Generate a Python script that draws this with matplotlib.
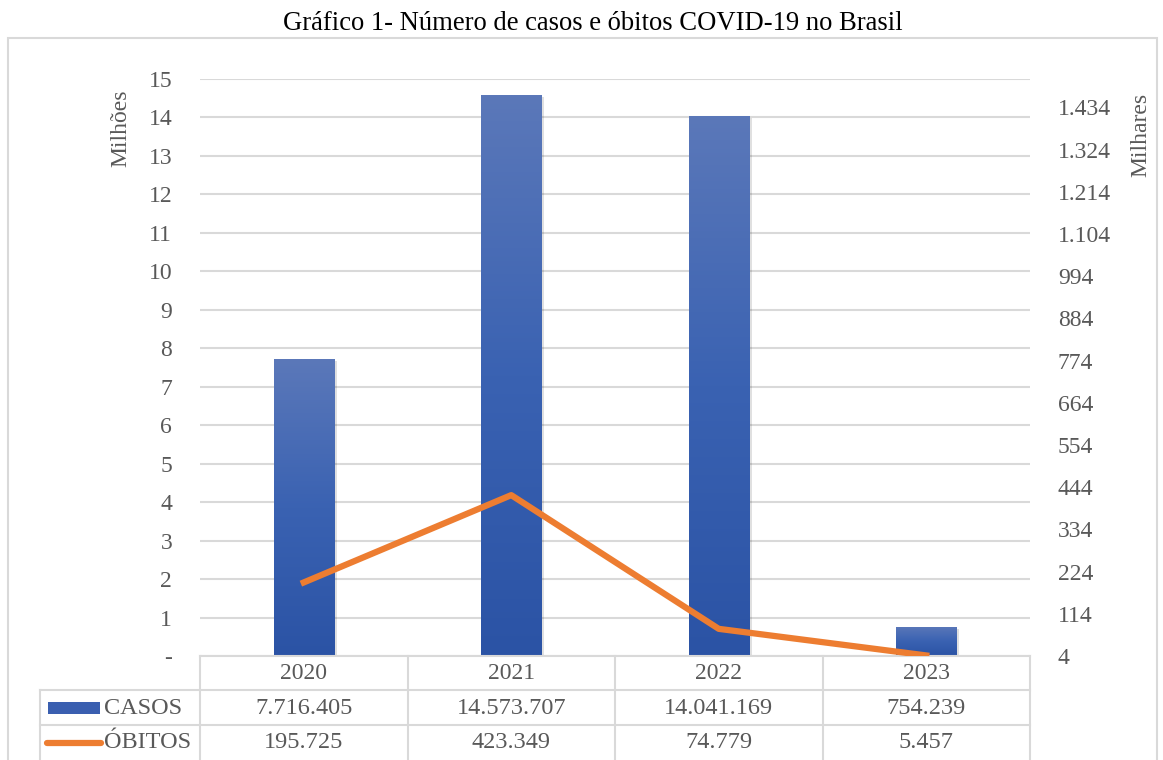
import matplotlib.pyplot as plt
import numpy as np
from matplotlib.colors import LinearSegmentedColormap
from matplotlib.lines import Line2D
from matplotlib.patches import Rectangle
import matplotlib.transforms as mtransforms

# dados do grafico
anos = ['2020', '2021', '2022', '2023']
casos = [7716405, 14573707, 14041169, 754239]
obitos = [195725, 423349, 74779, 5457]
ticks_esq = list(range(0, 16))          # milhoes
ticks_dir = list(range(4, 1435, 110))   # milhares

plt.rcParams['font.family'] = ['Liberation Serif', 'DejaVu Serif']

W, H = 1163, 760
CINZA = '#D9D9D9'
TEXTO = '#595959'


def fx(px):
    return px / W


def fy(py):
    return 1 - py / H


def ponto(v):
    # separador de milhar no formato brasileiro
    return '{:,}'.format(v).replace(',', '.')


fig = plt.figure(figsize=(W / 100, H / 100), dpi=100)

# borda externa do grafico
fig.add_artist(Rectangle((fx(8), fy(775)), fx(1157) - fx(8), fy(38) - fy(775),
                         transform=fig.transFigure, fill=False, edgecolor=CINZA, lw=1.5))
fig.text(fx(593), fy(24), 'Gráfico 1- Número de casos e óbitos COVID-19 no Brasil',
         ha='center', va='center', fontsize=19.2, color='black')

ax = fig.add_axes([fx(200), fy(656), fx(1030) - fx(200), (656 - 79) / H])
x = np.arange(len(anos))
casos_m = [c / 1e6 for c in casos]
obitos_k = [o / 1e3 for o in obitos]

# barras com degrade (mais claro no topo)
cmap = LinearSegmentedColormap.from_list('azul', ['#2B53A5', '#3A62B2', '#5B78B9'])
grad = np.linspace(0, 1, 256).reshape(-1, 1)
largura = 0.29
barras = ax.bar(x, casos_m, width=largura, color='none', zorder=2)
for b in barras:
    x0, h = b.get_x(), b.get_height()
    sombra = Rectangle((x0, 0), largura, h, facecolor='black', alpha=0.12, lw=0,
                       zorder=1.9,
                       transform=ax.transData + mtransforms.Affine2D().translate(3, -2))
    ax.add_patch(sombra)
    im = ax.imshow(grad, extent=[x0, x0 + largura, 0, h], origin='lower', aspect='auto',
                   cmap=cmap, zorder=2)
    im.set_clip_path(b)

ax.set_xlim(-0.5, len(anos) - 0.5)
ax.set_ylim(0, 15)
ax.set_yticks(ticks_esq)
ax.set_yticklabels(['-' if t == 0 else str(t) for t in ticks_esq])
ax.set_xticks(x)
ax.set_xticklabels(anos)
ax.grid(axis='y', color=CINZA, lw=1.5, zorder=0)
ax.set_axisbelow(True)
for s in ['top', 'left', 'right']:
    ax.spines[s].set_visible(False)
ax.spines['bottom'].set_color(CINZA)
ax.spines['bottom'].set_linewidth(1.5)
ax.tick_params(axis='y', length=0, pad=20, labelsize=17, labelcolor=TEXTO)
ax.tick_params(axis='x', length=0, pad=5, labelsize=17, labelcolor=TEXTO)

ax2 = ax.twinx()
ax2.plot(x, obitos_k, color='#ED7D31', lw=4.5, zorder=3)
ax2.set_ylim(4, 1508)
ax2.set_yticks(ticks_dir)
ax2.set_yticklabels([ponto(t) for t in ticks_dir])
for s in ['top', 'left', 'right', 'bottom']:
    ax2.spines[s].set_visible(False)
ax2.tick_params(axis='y', length=0, pad=20, labelsize=17, labelcolor=TEXTO)

fig.text(fx(121), fy(128), 'Milhões', rotation=90, ha='center', va='center',
         fontsize=17, color=TEXTO)
fig.text(fx(1141), fy(135), 'Milhares', rotation=90, ha='center', va='center',
         fontsize=17, color=TEXTO)

# tabela de dados abaixo do grafico
colunas = [200, 407.5, 615, 822.5, 1030]


def linha(xs, ys, **kw):
    fig.add_artist(Line2D([fx(v) for v in xs], [fy(v) for v in ys],
                          transform=fig.transFigure, **kw))


for cx in colunas:
    linha([cx, cx], [656, 770], color=CINZA, lw=1.5)
linha([40, 40], [690, 770], color=CINZA, lw=1.5)
for ry in [690, 725]:
    linha([40, 1030], [ry, ry], color=CINZA, lw=1.5)

linhas_tab = [('CASOS', [ponto(v) for v in casos], 708),
              ('ÓBITOS', [ponto(v) for v in obitos], 743)]
for nome, valores, ry in linhas_tab:
    fig.text(fx(104), fy(ry), nome, ha='left', va='center', fontsize=17.5, color=TEXTO)
    for i, val in enumerate(valores):
        cx = (colunas[i] + colunas[i + 1]) / 2
        fig.text(fx(cx), fy(ry), val, ha='center', va='center', fontsize=17.5, color=TEXTO)

# chaves da legenda
fig.add_artist(Rectangle((fx(48), fy(714)), fx(100) - fx(48), fy(702) - fy(714),
                         transform=fig.transFigure, facecolor='#3A5FB0', lw=0))
linha([47, 101], [743, 743], color='#ED7D31', lw=4.5, solid_capstyle='round')

fig.savefig('out.png', dpi=100)
